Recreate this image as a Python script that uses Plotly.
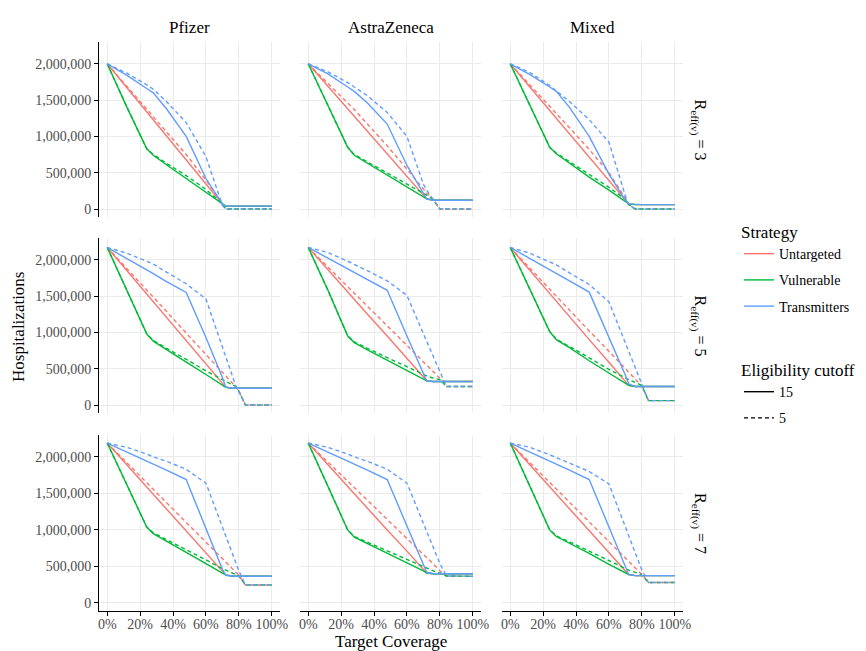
import plotly.graph_objects as go

# ---------------- data (hospitalizations, millions) ----------------
COVERAGE = [0, 12, 24, 28, 36, 48, 60, 70, 72, 76, 78, 80, 84, 100]

VACCINES = ["Pfizer", "AstraZeneca", "Mixed"]
REFF = ["3", "5", "7"]
STRATEGIES = ["Untargeted", "Vulnerable", "Transmitters"]
CUTOFFS = ["15", "5"]

# each panel: rows = Untargeted15, Untargeted5, Vulnerable15, Vulnerable5, Transmitters15, Transmitters5
PFIZER_R3 = [
    [2.0, 1.67, 1.34, 1.23, 1.01, 0.68, 0.35, 0.07, 0.04, 0.04, 0.04, 0.04, 0.04, 0.04],
    [2.0, 1.69, 1.38, 1.28, 1.07, 0.75, 0.40, 0.07, 0.0, 0.0, 0.0, 0.0, 0.0, 0.0],
    [2.0, 1.40, 0.83, 0.74, 0.61, 0.42, 0.23, 0.07, 0.04, 0.04, 0.04, 0.04, 0.04, 0.04],
    [2.0, 1.40, 0.83, 0.75, 0.63, 0.46, 0.27, 0.07, 0.0, 0.0, 0.0, 0.0, 0.0, 0.0],
    [2.0, 1.84, 1.66, 1.60, 1.38, 1.00, 0.42, 0.07, 0.04, 0.04, 0.04, 0.04, 0.04, 0.04],
    [2.0, 1.87, 1.71, 1.65, 1.48, 1.19, 0.72, 0.05, 0.0, 0.0, 0.0, 0.0, 0.0, 0.0],
]
ASTRAZENECA_R3 = [
    [2.0, 1.69, 1.38, 1.28, 1.07, 0.76, 0.45, 0.19, 0.14, 0.12, 0.12, 0.12, 0.12, 0.12],
    [2.0, 1.73, 1.46, 1.37, 1.17, 0.87, 0.55, 0.27, 0.22, 0.13, 0.07, 0.0, 0.0, 0.0],
    [2.0, 1.43, 0.85, 0.74, 0.63, 0.47, 0.30, 0.17, 0.14, 0.12, 0.12, 0.12, 0.12, 0.12],
    [2.0, 1.43, 0.85, 0.75, 0.65, 0.50, 0.35, 0.22, 0.19, 0.13, 0.07, 0.0, 0.0, 0.0],
    [2.0, 1.86, 1.68, 1.62, 1.46, 1.17, 0.60, 0.20, 0.14, 0.12, 0.12, 0.12, 0.12, 0.12],
    [2.0, 1.89, 1.74, 1.68, 1.56, 1.33, 1.00, 0.34, 0.26, 0.13, 0.07, 0.0, 0.0, 0.0],
]
MIXED_R3 = [
    [2.0, 1.68, 1.35, 1.25, 1.03, 0.71, 0.39, 0.12, 0.07, 0.06, 0.06, 0.06, 0.06, 0.06],
    [2.0, 1.71, 1.41, 1.32, 1.12, 0.82, 0.50, 0.15, 0.06, 0.0, 0.0, 0.0, 0.0, 0.0],
    [2.0, 1.42, 0.85, 0.76, 0.63, 0.44, 0.26, 0.10, 0.07, 0.06, 0.06, 0.06, 0.06, 0.06],
    [2.0, 1.42, 0.85, 0.77, 0.65, 0.48, 0.30, 0.13, 0.06, 0.0, 0.0, 0.0, 0.0, 0.0],
    [2.0, 1.85, 1.68, 1.62, 1.40, 1.00, 0.48, 0.12, 0.07, 0.06, 0.06, 0.06, 0.06, 0.06],
    [2.0, 1.88, 1.70, 1.63, 1.48, 1.23, 0.92, 0.18, 0.06, 0.0, 0.0, 0.0, 0.0, 0.0],
]
PFIZER_R5 = [
    [2.17, 1.85, 1.53, 1.42, 1.21, 0.89, 0.57, 0.30, 0.245, 0.23, 0.23, 0.23, 0.23, 0.23],
    [2.17, 1.88, 1.58, 1.48, 1.29, 0.99, 0.70, 0.45, 0.40, 0.30, 0.255, 0.19, 0.0, 0.0],
    [2.17, 1.57, 0.98, 0.88, 0.76, 0.59, 0.42, 0.27, 0.245, 0.23, 0.23, 0.23, 0.23, 0.23],
    [2.17, 1.57, 0.98, 0.89, 0.78, 0.63, 0.47, 0.35, 0.33, 0.28, 0.255, 0.19, 0.0, 0.0],
    [2.17, 2.01, 1.86, 1.81, 1.70, 1.55, 0.93, 0.38, 0.245, 0.23, 0.23, 0.23, 0.23, 0.23],
    [2.17, 2.09, 1.98, 1.94, 1.83, 1.67, 1.46, 0.80, 0.67, 0.39, 0.27, 0.19, 0.0, 0.0],
]
ASTRAZENECA_R5 = [
    [2.17, 1.86, 1.56, 1.46, 1.25, 0.95, 0.64, 0.38, 0.333, 0.324, 0.324, 0.324, 0.324, 0.324],
    [2.17, 1.90, 1.63, 1.54, 1.36, 1.09, 0.82, 0.60, 0.55, 0.46, 0.42, 0.37, 0.255, 0.255],
    [2.17, 1.58, 0.95, 0.86, 0.76, 0.62, 0.48, 0.36, 0.333, 0.324, 0.324, 0.324, 0.324, 0.324],
    [2.17, 1.58, 0.95, 0.87, 0.78, 0.65, 0.52, 0.42, 0.40, 0.37, 0.36, 0.35, 0.255, 0.255],
    [2.17, 2.02, 1.88, 1.83, 1.73, 1.58, 0.95, 0.42, 0.33, 0.324, 0.324, 0.324, 0.324, 0.324],
    [2.17, 2.10, 1.98, 1.94, 1.85, 1.71, 1.51, 0.98, 0.88, 0.67, 0.56, 0.46, 0.255, 0.255],
]
MIXED_R5 = [
    [2.17, 1.85, 1.54, 1.43, 1.22, 0.90, 0.59, 0.32, 0.27, 0.255, 0.255, 0.255, 0.255, 0.255],
    [2.17, 1.88, 1.60, 1.50, 1.31, 1.02, 0.74, 0.50, 0.45, 0.35, 0.31, 0.26, 0.06, 0.06],
    [2.17, 1.59, 1.01, 0.90, 0.79, 0.61, 0.44, 0.30, 0.27, 0.255, 0.255, 0.255, 0.255, 0.255],
    [2.17, 1.59, 1.01, 0.91, 0.81, 0.65, 0.49, 0.37, 0.35, 0.31, 0.29, 0.27, 0.06, 0.06],
    [2.17, 2.02, 1.86, 1.81, 1.71, 1.555, 0.94, 0.41, 0.29, 0.255, 0.255, 0.255, 0.255, 0.255],
    [2.17, 2.09, 1.97, 1.93, 1.82, 1.66, 1.42, 0.85, 0.74, 0.52, 0.40, 0.28, 0.06, 0.06],
]
PFIZER_R7 = [
    [2.19, 1.89, 1.59, 1.49, 1.29, 0.99, 0.69, 0.43, 0.384, 0.366, 0.366, 0.366, 0.366, 0.366],
    [2.19, 1.92, 1.65, 1.56, 1.38, 1.11, 0.84, 0.61, 0.56, 0.47, 0.43, 0.38, 0.245, 0.245],
    [2.19, 1.61, 1.04, 0.95, 0.85, 0.69, 0.54, 0.41, 0.384, 0.366, 0.366, 0.366, 0.366, 0.366],
    [2.19, 1.61, 1.04, 0.96, 0.87, 0.73, 0.59, 0.47, 0.45, 0.41, 0.39, 0.37, 0.245, 0.245],
    [2.19, 2.07, 1.94, 1.90, 1.82, 1.69, 1.03, 0.46, 0.38, 0.366, 0.366, 0.366, 0.366, 0.366],
    [2.19, 2.13, 2.04, 2.00, 1.94, 1.83, 1.64, 1.04, 0.92, 0.68, 0.56, 0.44, 0.245, 0.245],
]
ASTRAZENECA_R7 = [
    [2.19, 1.89, 1.60, 1.50, 1.30, 1.00, 0.71, 0.46, 0.41, 0.40, 0.40, 0.40, 0.40, 0.40],
    [2.19, 1.93, 1.67, 1.58, 1.40, 1.14, 0.88, 0.66, 0.62, 0.53, 0.49, 0.44, 0.366, 0.366],
    [2.19, 1.60, 1.00, 0.90, 0.81, 0.68, 0.55, 0.44, 0.41, 0.40, 0.40, 0.40, 0.40, 0.40],
    [2.19, 1.60, 1.00, 0.91, 0.83, 0.71, 0.59, 0.49, 0.47, 0.44, 0.42, 0.41, 0.37, 0.366],
    [2.19, 2.07, 1.94, 1.90, 1.82, 1.69, 1.06, 0.52, 0.42, 0.40, 0.40, 0.40, 0.40, 0.40],
    [2.19, 2.13, 2.04, 2.00, 1.94, 1.83, 1.64, 1.09, 0.98, 0.76, 0.65, 0.54, 0.37, 0.366],
]
MIXED_R7 = [
    [2.19, 1.89, 1.59, 1.49, 1.29, 0.99, 0.69, 0.44, 0.39, 0.375, 0.375, 0.375, 0.375, 0.375],
    [2.19, 1.92, 1.65, 1.56, 1.38, 1.11, 0.84, 0.61, 0.57, 0.48, 0.43, 0.39, 0.28, 0.28],
    [2.19, 1.60, 1.00, 0.91, 0.82, 0.68, 0.53, 0.41, 0.39, 0.375, 0.375, 0.375, 0.375, 0.375],
    [2.19, 1.60, 1.00, 0.92, 0.84, 0.71, 0.58, 0.47, 0.45, 0.42, 0.40, 0.38, 0.28, 0.28],
    [2.19, 2.07, 1.94, 1.90, 1.82, 1.69, 1.03, 0.49, 0.39, 0.375, 0.375, 0.375, 0.375, 0.375],
    [2.19, 2.13, 2.03, 1.99, 1.92, 1.80, 1.63, 1.04, 0.92, 0.69, 0.57, 0.45, 0.28, 0.28],
]

PANELS = [
    [PFIZER_R3, ASTRAZENECA_R3, MIXED_R3],
    [PFIZER_R5, ASTRAZENECA_R5, MIXED_R5],
    [PFIZER_R7, ASTRAZENECA_R7, MIXED_R7],
]

X_TICKS = [0, 20, 40, 60, 80, 100]
X_TICK_TEXT = ["0%", "20%", "40%", "60%", "80%", "100%"]
Y_TICKS = [0, 500000, 1000000, 1500000, 2000000]
Y_TICK_TEXT = ["0", "500,000", "1,000,000", "1,500,000", "2,000,000"]

# ---------------- styling ----------------
W, H = 866, 651
COLORS = {"Untargeted": "#F8766D", "Vulnerable": "#00BA38", "Transmitters": "#619CFF"}
DASH = {"15": "solid", "5": "4px,3px"}
FONT = "Liberation Serif, Times New Roman, serif"
GRID = "#EBEBEB"

col_px = [(99, 280), (300, 481), (502, 683)]
row_px = [(42, 217), (238, 413), (435, 611)]

fig = go.Figure()
layout = {}

for r in range(3):
    for c in range(3):
        k = r * 3 + c + 1
        sfx = "" if k == 1 else str(k)
        panel = PANELS[r][c]
        for si, s in enumerate(STRATEGIES):
            for ci, cut in enumerate(CUTOFFS):
                vals = panel[si * 2 + ci]
                fig.add_trace(go.Scatter(
                    x=COVERAGE, y=[v * 1e6 for v in vals], mode="lines",
                    line=dict(color=COLORS[s], width=1.4, dash=DASH[cut]),
                    showlegend=False, hoverinfo="skip",
                    xaxis="x" + sfx, yaxis="y" + sfx))
        x0, x1 = col_px[c]
        y0, y1 = row_px[r]
        bottom = r == 2
        left = c == 0
        layout["xaxis" + sfx] = dict(
            domain=[x0 / W, x1 / W], range=[-5, 105], anchor="y" + sfx, automargin=False,
            tickmode="array", tickvals=X_TICKS, ticktext=X_TICK_TEXT, showticklabels=bottom,
            showline=bottom, linecolor="black", linewidth=1,
            ticks="outside" if bottom else "", ticklen=4, tickcolor="black",
            ticklabelstandoff=-4,
            showgrid=True, gridcolor=GRID, gridwidth=1, zeroline=False,
            tickfont=dict(size=14, color="#4D4D4D", family=FONT))
        layout["yaxis" + sfx] = dict(
            domain=[1 - y1 / H, 1 - y0 / H], range=[-110000, 2300000], anchor="x" + sfx,
            automargin=False,
            tickmode="array", tickvals=Y_TICKS, ticktext=Y_TICK_TEXT, showticklabels=left,
            showline=left, linecolor="black", linewidth=1,
            ticks="outside" if left else "", ticklen=4, tickcolor="black",
            showgrid=True, gridcolor=GRID, gridwidth=1, zeroline=False,
            tickfont=dict(size=14, color="#4D4D4D", family=FONT))

# legend entries
for s in STRATEGIES:
    fig.add_trace(go.Scatter(x=[None], y=[None], mode="lines", name=s, legendgroup=s,
                             line=dict(color=COLORS[s], width=1.4), legend="legend"))
for cut in CUTOFFS:
    fig.add_trace(go.Scatter(x=[None], y=[None], mode="lines", name=cut, legendgroup="cut" + cut,
                             line=dict(color="black", width=1.4, dash=DASH[cut]), legend="legend2"))

def ann(text, px, py, size, angle=0):
    return dict(text=text, x=px / W, y=1 - py / H, xref="paper", yref="paper",
                xanchor="center", yanchor="middle", showarrow=False, textangle=angle,
                font=dict(size=size, color="black", family=FONT))

annotations = []
for c, v in enumerate(VACCINES):
    annotations.append(ann(v, (col_px[c][0] + col_px[c][1]) / 2, 27, 17))
for r, rv in enumerate(REFF):
    annotations.append(ann("R<sub>eff(v)</sub> = " + rv, 699, (row_px[r][0] + row_px[r][1]) / 2, 16, 90))
annotations.append(ann("Hospitalizations", 18, 327, 17, -90))
annotations.append(ann("Target Coverage", 391, 641, 17))

fig.update_layout(
    width=W, height=H, margin=dict(l=0, r=0, t=0, b=0, autoexpand=False),
    paper_bgcolor="white", plot_bgcolor="white",
    font=dict(family=FONT, color="black"),
    annotations=annotations,
    legend=dict(title=dict(text="Strategy", font=dict(size=17)), x=739 / W, y=1 - 216 / H,
                xanchor="left", yanchor="top", font=dict(size=14), bgcolor="rgba(0,0,0,0)",
                tracegroupgap=5),
    legend2=dict(title=dict(text="Eligibility cutoff", font=dict(size=17)), x=739 / W, y=1 - 354 / H,
                 xanchor="left", yanchor="top", font=dict(size=14), bgcolor="rgba(0,0,0,0)",
                 tracegroupgap=5),
    **layout,
)

fig.write_html("out.html", config={"displayModeBar": False},
               post_script="document.body.style.margin='0';")
